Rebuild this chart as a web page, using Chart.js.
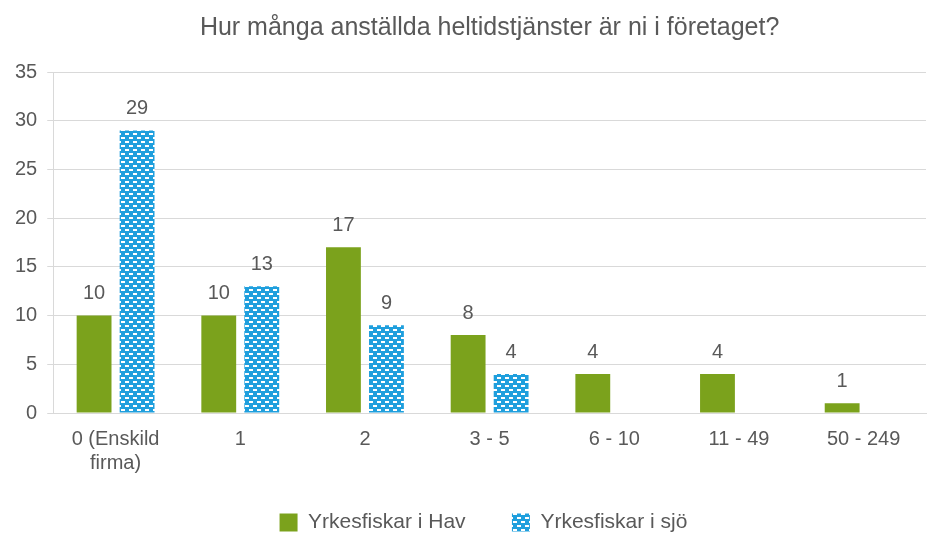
<!DOCTYPE html>
<html>
<head>
<meta charset="utf-8">
<script src="https://cdn.jsdelivr.net/npm/chart.js@4"></script>
<style>
  html, body { margin: 0; padding: 0; background: #fff; }
  #wrap { width: 936px; height: 533px; }
</style>
</head>
<body>
<div id="wrap"><canvas id="myChart" width="936" height="533"></canvas></div>
<script>
var categories = [['0 (Enskild', 'firma)'], '1', '2', '3 - 5', '6 - 10', '11 - 49', '50 - 249'];
var hav = [10, 10, 17, 8, 4, 4, 1];
var sjo = [29, 13, 9, 4, null, null, null];
var yTicks = [0, 5, 10, 15, 20, 25, 30, 35];

var textColor = '#595959';
var fontFam = '"Liberation Sans", Arial, sans-serif';

// blue brick pattern
function makePattern() {
    var c = document.createElement('canvas');
    c.width = 8; c.height = 8;
    var g = c.getContext('2d');
    g.fillStyle = '#1F9FDD';
    g.fillRect(0, 0, 8, 8);
    g.fillStyle = '#ffffff';
    g.fillRect(1, 1, 4, 2);
    g.fillRect(5, 5, 4, 2);
    g.fillRect(-3, 5, 4, 2);
    return g.createPattern(c, 'repeat');
}
var pattern = makePattern();

var valueLabels = {
    id: 'valueLabels',
    afterLayout: function(chart) {
        // title centred over the plot area, legend a bit right like the original
        var a = chart.chartArea;
        chart.titleBlock.left = a.left;
        chart.titleBlock.right = a.right;
        chart.legend.left += 18;
        chart.legend.right += 18;
    },
    afterDatasetsDraw: function(chart) {
        var ctx = chart.ctx;
        ctx.save();
        ctx.font = '20px ' + fontFam;
        ctx.fillStyle = textColor;
        ctx.textAlign = 'center';
        ctx.textBaseline = 'bottom';
        chart.data.datasets.forEach(function(ds, i) {
            chart.getDatasetMeta(i).data.forEach(function(bar, j) {
                var v = ds.data[j];
                if (v === null || v === undefined) return;
                ctx.fillText(v, bar.x, bar.y - 12);
            });
        });
        ctx.restore();
    }
};

var ctx = document.getElementById('myChart');
var myChart = new Chart(ctx, {
    type: 'bar',
    data: {
        labels: categories,
        datasets: [{
            label: 'Yrkesfiskar i Hav',
            data: hav,
            backgroundColor: '#7BA21C',
            categoryPercentage: 0.69,
            barPercentage: 0.81
        }, {
            label: 'Yrkesfiskar i sjö',
            data: sjo,
            backgroundColor: pattern,
            categoryPercentage: 0.69,
            barPercentage: 0.81
        }]
    },
    options: {
        responsive: false,
        animation: false,
        layout: { padding: { left: 5, right: 10, top: 0, bottom: -10 } },
        scales: {
            x: {
                grid: { display: false, drawTicks: false },
                border: { color: '#d9d9d9' },
                ticks: { color: textColor, font: { size: 20, family: fontFam, lineHeight: 1.2 }, padding: 14, maxRotation: 0 }
            },
            y: {
                min: 0,
                max: 35,
                afterBuildTicks: function(axis) {
                    axis.ticks = yTicks.map(function(v) { return { value: v }; });
                },
                grid: { color: '#d9d9d9', tickLength: 6 },
                border: { color: '#d9d9d9' },
                ticks: { color: textColor, font: { size: 20, family: fontFam }, padding: 10 }
            }
        },
        plugins: {
            title: {
                display: true,
                text: 'Hur många anställda heltidstjänster är ni i företaget?',
                color: textColor,
                font: { size: 25, family: fontFam, weight: 'normal' },
                padding: { top: 13, bottom: 29 }
            },
            legend: {
                position: 'bottom',
                labels: {
                    color: textColor,
                    font: { size: 21, family: fontFam },
                    boxWidth: 18,
                    boxHeight: 18,
                    padding: 23,
                    generateLabels: function(chart) {
                        var items = Chart.defaults.plugins.legend.labels.generateLabels(chart);
                        items[0].text += '    ';
                        return items;
                    }
                }
            },
            tooltip: { enabled: false }
        }
    },
    plugins: [valueLabels]
});
</script>
</body>
</html>
